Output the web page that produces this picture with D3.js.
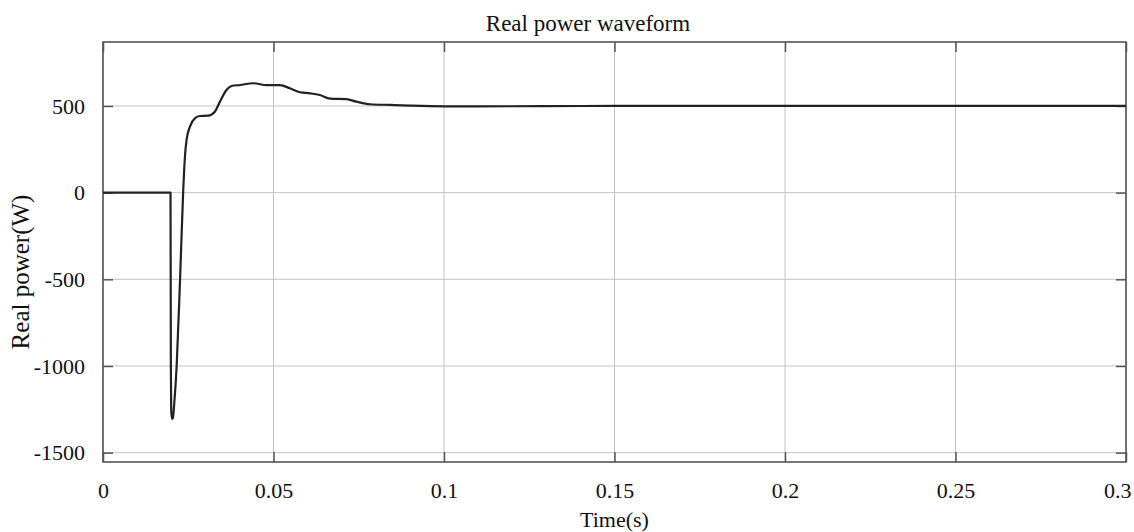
<!DOCTYPE html>
<html>
<head>
<meta charset="utf-8">
<script src="https://cdn.jsdelivr.net/npm/d3@7"></script>
<style>
  html, body { margin: 0; padding: 0; background: #fff; }
  svg text { font-family: "Liberation Serif", "Times New Roman", serif; fill: #111; }
</style>
</head>
<body>
<svg id="chart" width="1134" height="532"></svg>
<script>
// ---- data ----
const timeValues = [0, 0.0198, 0.0199, 0.0200, 0.0202, 0.0205, 0.0209, 0.0216, 0.0226, 0.0235, 0.0240,
  0.0245, 0.0255, 0.0270, 0.0284, 0.0308, 0.0328, 0.0343, 0.0362, 0.0377, 0.0402, 0.0441, 0.0480,
  0.0519, 0.0548, 0.0578, 0.0607, 0.0636, 0.0666, 0.0714, 0.0743, 0.0783, 0.0842, 0.0900, 0.1000,
  0.1100, 0.1500, 0.3000];
const powerValues = [0, 0, -1000, -1250, -1305, -1300, -1215, -1000, -500, 0, 200,
  304, 381, 430, 442, 444, 467, 525, 592, 615, 621, 631, 620,
  620, 602, 579, 573, 563, 542, 539, 525, 510, 506, 502, 498,
  498, 500, 500];
const xTicks = [0, 0.05, 0.1, 0.15, 0.2, 0.25, 0.3];
const xTickLabels = ["0", "0.05", "0.1", "0.15", "0.2", "0.25", "0.3"];
const yTicks = [500, 0, -500, -1000, -1500];
const yTickLabels = ["500", "0", "-500", "-1000", "-1500"];
const titleText = "Real power waveform";
const xLabel = "Time(s)";
const yLabel = "Real power(W)";

// ---- layout ----
const L = 103, R = 1126, T = 42, B = 462;
const svg = d3.select("#chart");
const x = d3.scaleLinear().domain([0, 0.3]).range([L, R]);
const y = d3.scaleLinear().domain([-1554, 869]).range([B, T]);

// gridlines
const grid = svg.append("g");
grid.selectAll("line.vx").data(xTicks).join("line")
  .attr("x1", d => x(d)).attr("x2", d => x(d)).attr("y1", T).attr("y2", B)
  .attr("stroke", "#c4c4c4").attr("stroke-width", 1);
grid.selectAll("line.hy").data(yTicks).join("line")
  .attr("x1", L).attr("x2", R).attr("y1", d => y(d)).attr("y2", d => y(d))
  .attr("stroke", "#c4c4c4").attr("stroke-width", 1);

// axes (inward ticks on all four sides)
const fmtX = d => xTickLabels[xTicks.indexOf(d)];
const fmtY = d => yTickLabels[yTicks.indexOf(d)];
const axB = svg.append("g").attr("transform", `translate(0,${B})`)
  .call(d3.axisBottom(x).tickValues(xTicks).tickFormat(fmtX).tickSize(-10).tickPadding(20));
const axT = svg.append("g").attr("transform", `translate(0,${T})`)
  .call(d3.axisTop(x).tickValues(xTicks).tickFormat("").tickSize(-10));
const axL = svg.append("g").attr("transform", `translate(${L},0)`)
  .call(d3.axisLeft(y).tickValues(yTicks).tickFormat(fmtY).tickSize(-10).tickPadding(18));
const axRt = svg.append("g").attr("transform", `translate(${R},0)`)
  .call(d3.axisRight(y).tickValues(yTicks).tickFormat("").tickSize(-10));
[axB, axT, axL, axRt].forEach(g => {
  g.select(".domain").remove();
  g.selectAll(".tick line").attr("stroke", "#555").attr("stroke-width", 1.5);
  g.selectAll(".tick text").attr("font-size", 22).attr("font-family", "Liberation Serif").attr("fill", "#111");
});
// keep the last x label inside the picture, as in the reference
axB.selectAll(".tick text").filter(d => d === 0.3).attr("text-anchor", "end").attr("dx", 5);

// frame
svg.append("rect").attr("x", L).attr("y", T).attr("width", R - L).attr("height", B - T)
  .attr("fill", "none").attr("stroke", "#555").attr("stroke-width", 1.6);

// curve
const pts = timeValues.map((t, i) => [t, powerValues[i]]);
svg.append("path").datum(pts)
  .attr("d", d3.line().x(d => x(d[0])).y(d => y(d[1])).curve(d3.curveMonotoneX))
  .attr("fill", "none").attr("stroke", "#222").attr("stroke-width", 2.2)
  .attr("stroke-linejoin", "round");

// title & labels
svg.append("text").attr("x", 588).attr("y", 31).attr("text-anchor", "middle")
  .attr("font-size", 23).text(titleText);
svg.append("text").attr("x", (L + R) / 2).attr("y", 527).attr("text-anchor", "middle")
  .attr("font-size", 22).text(xLabel);
svg.append("text").attr("transform", "translate(29,272) rotate(-90)").attr("text-anchor", "middle")
  .attr("font-size", 25).text(yLabel);
</script>
</body>
</html>
